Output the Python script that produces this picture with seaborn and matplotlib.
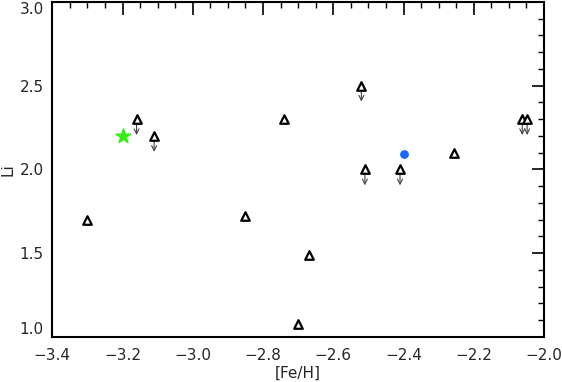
import matplotlib
matplotlib.use("Agg")
import matplotlib.pyplot as plt
from matplotlib.ticker import MultipleLocator
import seaborn as sns
import pandas as pd

# open triangles (upper limits flagged)
feh = [-3.30, -3.16, -3.11, -2.85, -2.74, -2.67, -2.70, -2.52, -2.51, -2.41, -2.255, -2.062, -2.048]
li = [1.70, 2.30, 2.20, 1.72, 2.30, 1.49, 1.08, 2.50, 2.00, 2.00, 2.10, 2.30, 2.30]
upper = [False, True, True, False, False, False, False, True, True, True, False, True, True]

# special stars
star_feh = [-3.20]
star_li = [2.20]
dot_feh = [-2.40]
dot_li = [2.09]

sns.set_style("white")
plt.rcParams['font.family'] = ['DejaVu Sans']

df = pd.DataFrame({'FeH': feh, 'Li': li, 'upper': upper})

fig, ax = plt.subplots(figsize=(5.62, 3.82), dpi=100)
sns.scatterplot(data=df, x='FeH', y='Li', marker='^', s=38, facecolor='white',
                edgecolor='black', linewidth=1.6, ax=ax, zorder=3)

# arrows for upper limits
for x, y in zip(df.FeH[df.upper], df.Li[df.upper]):
    ax.annotate('', xy=(x, y - 0.095), xytext=(x, y - 0.01),
                arrowprops=dict(arrowstyle='->', color='#444444', lw=0.8,
                                mutation_scale=9, shrinkA=0, shrinkB=0), zorder=2)

ax.scatter(star_feh, star_li, marker='*', s=120, color='#33ee11', zorder=4)
ax.scatter(dot_feh, dot_li, marker='o', s=28, color='#1a66ff', zorder=4)

ax.set_xlim(-3.4, -2.0)
ax.set_ylim(1.0, 3.0)
ax.xaxis.set_major_locator(MultipleLocator(0.2))
ax.xaxis.set_minor_locator(MultipleLocator(0.05))
ax.set_yticks([1.0, 1.5, 2.0, 2.5, 3.0])
ax.yaxis.set_minor_locator(MultipleLocator(0.1))
ax.xaxis.set_major_formatter(plt.FuncFormatter(lambda v, p: f'{v:.1f}'.replace('-', '\u2212')))
ax.yaxis.set_major_formatter(plt.FuncFormatter(lambda v, p: f'{v:.1f}'))
ax.tick_params(which='both', direction='in', top=True, right=True, labelsize=11, color='black')
ax.tick_params(which='major', length=9, width=1.2)
ax.tick_params(which='minor', length=4.5, width=1.0)
ax.tick_params(axis='x', which='major', pad=8)
ax.tick_params(axis='y', which='major', pad=6)
for sp in ax.spines.values():
    sp.set_color('black')
    sp.set_linewidth(1.5)

ax.set_xlabel('[Fe/H]', fontsize=11, labelpad=2)
ax.set_ylabel('Li', fontsize=11, labelpad=3)
ax.grid(False)

plt.subplots_adjust(left=0.093, right=0.968, top=0.995, bottom=0.118)
fig.canvas.draw()
for lbl in ax.get_yticklabels():
    if lbl.get_text() == '1.0':
        lbl.set_va('bottom')
    elif lbl.get_text() == '3.0':
        lbl.set_va('top')

plt.savefig('out.png', dpi=100)
plt.close()
